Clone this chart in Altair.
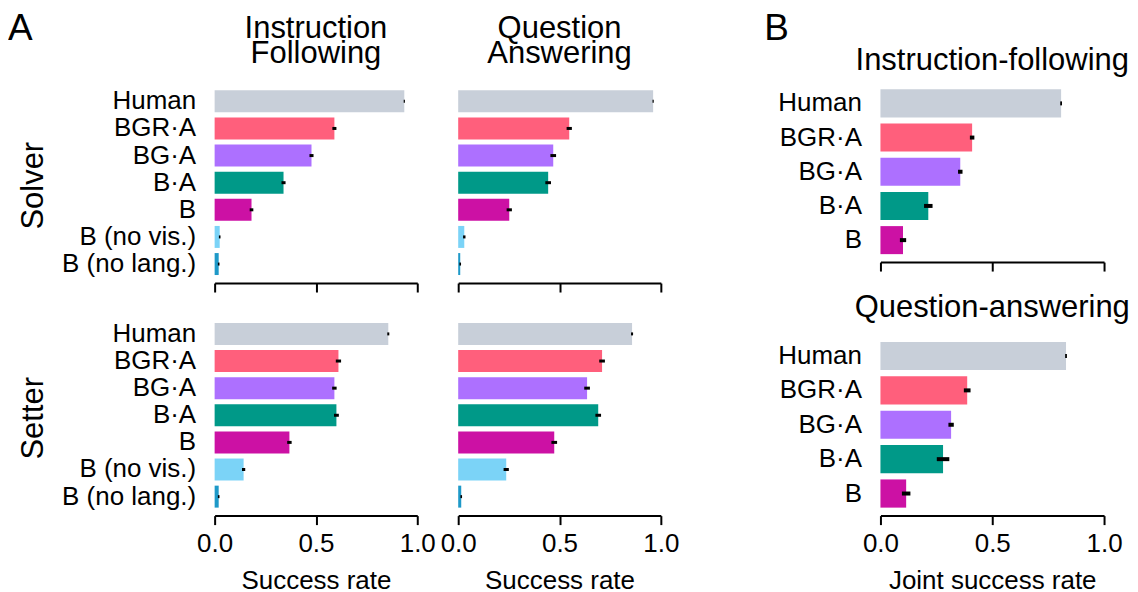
import altair as alt
import pandas as pd

FONT = "Liberation Sans"

models_a = ["Human", "BGR·A", "BG·A", "B·A", "B", "B (no vis.)", "B (no lang.)"]
models_b = ["Human", "BGR·A", "BG·A", "B·A", "B"]
colors = ["#c8cfd9", "#ff5f7c", "#ad70ff", "#009988", "#cc11a4", "#7bd3f7", "#1e99c8"]

# Panel A: Solver
solver_if = [0.936, 0.591, 0.478, 0.340, 0.182, 0.025, 0.020]
solver_if_err = [0.003, 0.010, 0.010, 0.010, 0.009, 0.004, 0.004]
solver_qa = [0.962, 0.548, 0.469, 0.444, 0.252, 0.030, 0.010]
solver_qa_err = [0.003, 0.013, 0.014, 0.014, 0.013, 0.006, 0.004]
# Panel A: Setter
setter_if = [0.857, 0.611, 0.591, 0.601, 0.369, 0.143, 0.020]
setter_if_err = [0.005, 0.013, 0.011, 0.012, 0.011, 0.008, 0.004]
setter_qa = [0.858, 0.710, 0.636, 0.691, 0.474, 0.237, 0.015]
setter_qa_err = [0.005, 0.014, 0.014, 0.014, 0.014, 0.013, 0.004]
# Panel B: joint success
joint_if = [0.808, 0.410, 0.357, 0.214, 0.101]
joint_if_err = [0.004, 0.010, 0.010, 0.019, 0.014]
joint_qa = [0.830, 0.388, 0.316, 0.280, 0.115]
joint_qa_err = [0.004, 0.015, 0.012, 0.028, 0.019]

dummy = pd.DataFrame({"a": [0]})


def text_layer(text, x, y, size, align="center", line_height=None):
    kw = dict(text=text, fontSize=size, align=align, baseline="alphabetic",
              font=FONT, color="black")
    if line_height is not None:
        kw["lineHeight"] = line_height
    return alt.Chart(dummy).mark_text(**kw).encode(x=alt.value(x), y=alt.value(y))


def panel(models, vals, errs, width, height, pi, po, al, y_title, show_y,
          x_labels, x_title, err_w, extras):
    df = pd.DataFrame({
        "model": models,
        "value": vals,
        "lo": [v - e for v, e in zip(vals, errs)],
        "hi": [v + e for v, e in zip(vals, errs)],
    })
    if show_y:
        yaxis = alt.Axis(title=y_title, titleFontSize=31, titlePadding=12,
                         titleFontWeight="normal", labelFontSize=26,
                         labelPadding=19, ticks=False, domain=False,
                         labelLimit=400)
    else:
        yaxis = None
    yscale = alt.Scale(paddingInner=pi, paddingOuter=po, align=al)
    y = alt.Y("model:N", sort=models, scale=yscale, axis=yaxis)
    if x_labels:
        xaxis = alt.Axis(values=[0, 0.5, 1.0], format=".1f", title=x_title,
                         labelFontSize=26, labelPadding=6, labelFlush=False,
                         titleFontSize=26, titlePadding=11,
                         titleFontWeight="normal")
    else:
        xaxis = alt.Axis(values=[0, 0.5, 1.0], labels=False, title=None)
    x = alt.X("value:Q", scale=alt.Scale(domain=[0, 1], nice=False), axis=xaxis)
    bars = alt.Chart(df).mark_bar().encode(
        x=x, y=y,
        color=alt.Color("model:N", scale=alt.Scale(domain=models_a, range=colors),
                        legend=None),
    )
    rule = alt.Chart(df).mark_rule(color="black", strokeWidth=err_w).encode(
        x="lo:Q", x2="hi:Q", y=alt.Y("model:N", sort=models)
    )
    return alt.layer(bars, rule, *extras).properties(width=width, height=height)


A_PI, A_PO, A_AL, A_H = 0.19, 0.202, 0.27, 196

anchor = alt.Chart(dummy).mark_rule(opacity=0, strokeWidth=0).encode(
    x=alt.value(-207), x2=alt.value(-207), y=alt.value(-79), y2=alt.value(-79))

a11 = panel(models_a, solver_if, solver_if_err, 203, A_H, A_PI, A_PO, A_AL,
            "Solver", True, False, None, 3,
            [anchor,
             text_layer("A", -207, -47.7, 37, align="left"),
             text_layer(["Instruction", "Following"], 101.5, -49.7, 31,
                        line_height=25.4)])
a12 = panel(models_a, solver_qa, solver_qa_err, 203, A_H, A_PI, A_PO, A_AL,
            None, False, False, None, 3,
            [text_layer(["Question", "Answering"], 101.5, -49.7, 31,
                        line_height=25.4)])
a21 = panel(models_a, setter_if, setter_if_err, 203, A_H, A_PI, A_PO, A_AL,
            "Setter", True, True, "Success rate", 3, [])
a22 = panel(models_a, setter_qa, setter_qa_err, 203, A_H, A_PI, A_PO, A_AL,
            None, False, True, "Success rate", 3, [])

b1 = panel(models_b, joint_if, joint_if_err, 224, 175, 0.18, 0.145, 0.2,
           None, True, False, None, 4,
           [text_layer("B", -116.4, -47.7, 37, align="left"),
            text_layer("Instruction-following", 112, -17, 31)])
b2 = panel(models_b, joint_qa, joint_qa_err, 224, 196, 0.18, 0.435, 0.733,
           None, True, True, "Joint success rate", 4,
           [text_layer("Question-answering", 112, -2.7, 31)])


def spacer():
    return alt.Chart(dummy).mark_point(opacity=0).encode(
        x=alt.value(0), y=alt.value(0)).properties(width=138, height=10)


chart = alt.concat(
    a11, a12, spacer(), b1,
    a21, a22, spacer(), b2,
    columns=4, spacing={"row": 37, "column": 41}, bounds="flush", align="each",
).properties(padding=0).configure(font=FONT).configure_view(
    stroke=None
).configure_axis(
    grid=False, domainColor="black", domainWidth=2, tickColor="black",
    tickWidth=2, tickSize=9, labelColor="black", titleColor="black",
    labelFont=FONT, titleFont=FONT,
)

chart.save("out.html", embed_options={"renderer": "svg", "actions": False})
